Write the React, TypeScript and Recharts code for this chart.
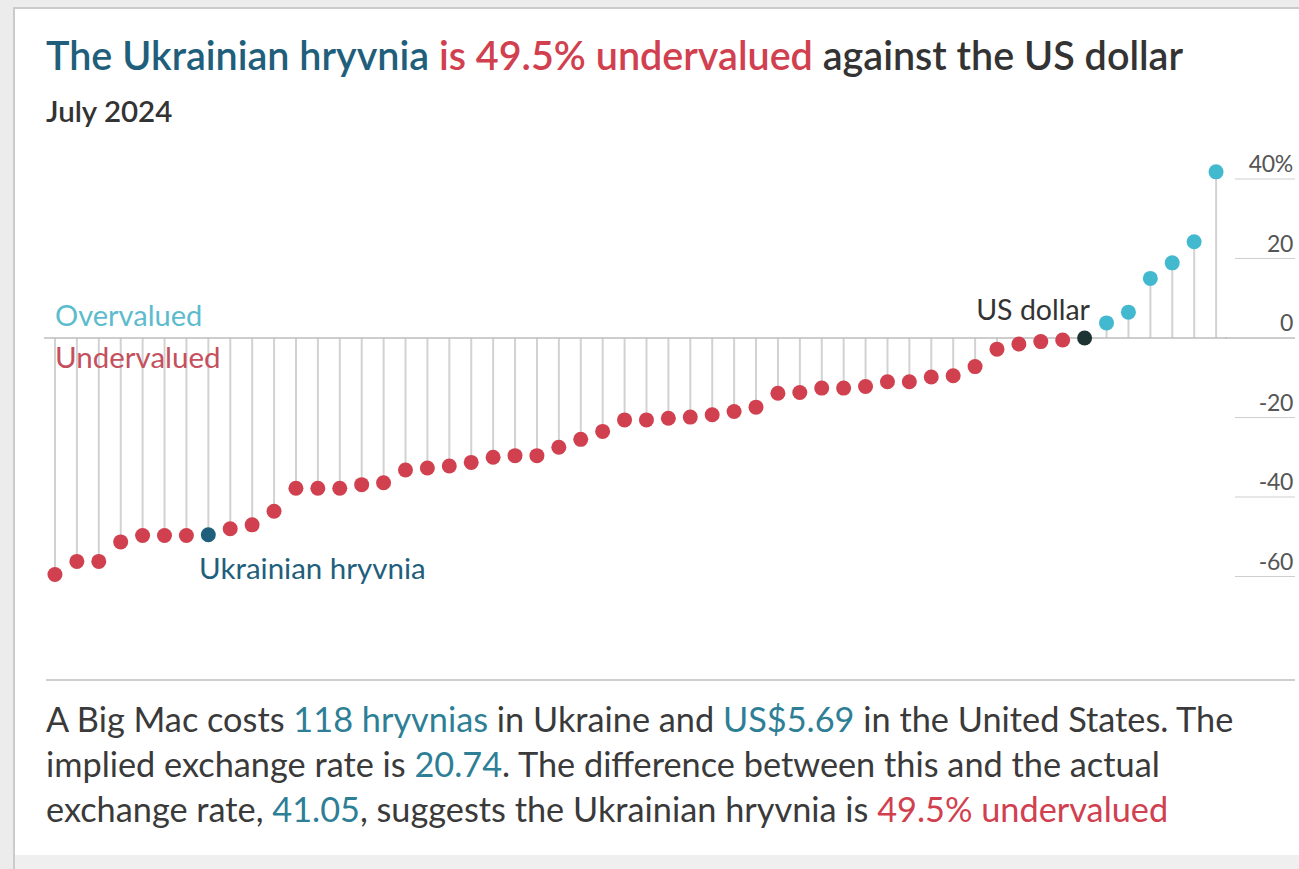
import React from "react";
import {
  ComposedChart,
  Bar,
  Line,
  XAxis,
  YAxis,
  ReferenceLine,
} from "recharts";

// Big Mac index, July 2024 - % over/under valuation vs US dollar, sorted
const VALUES = [
  -59.5, -56.2, -56.2, -51.3, -49.7, -49.7, -49.7, -49.5, -48.0, -47.0,
  -43.6, -37.8, -37.8, -37.8, -36.9, -36.4, -33.2, -32.7, -32.2, -31.3,
  -30.0, -29.6, -29.6, -27.5, -25.5, -23.5, -20.6, -20.6, -20.2, -19.9,
  -19.3, -18.5, -17.4, -13.9, -13.7, -12.6, -12.6, -12.2, -11.0, -11.0,
  -9.8, -9.5, -7.2, -2.8, -1.5, -0.9, -0.5, 0, 3.8, 6.5,
  15.0, 18.9, 24.2, 41.8,
];
const HRYVNIA_INDEX = 7;
const DOLLAR_INDEX = 47;
const Y_TICKS = [-60, -40, -20, 0, 20, 40];

const data = VALUES.map((value, i) => ({ id: i, value }));

const RED = "#d1404f";
const BLUE = "#43b9cf";
const TEAL = "#1f5f7c";
const HILITE = "#2e7f96";
const FONT = "Lato, 'Open Sans', sans-serif";

const dotColor = (index: number, value: number) => {
  if (index === HRYVNIA_INDEX) return TEAL;
  if (index === DOLLAR_INDEX) return "#1e3333";
  return value > 0 ? BLUE : RED;
};

const renderDot = (props: any) => {
  const { cx, cy, index, value } = props;
  return (
    <circle
      key={`dot-${index}`}
      cx={cx}
      cy={cy}
      r={7.5}
      fill={dotColor(index, value)}
    />
  );
};

const RightTick = (props: any) => {
  const { x, y, payload } = props;
  const v = payload.value;
  const label = v === 40 ? "40%" : String(v);
  return (
    <g>
      <line
        x1={v === 0 ? x - 10 : x}
        x2={x + 60}
        y1={y}
        y2={y}
        stroke={v === 0 ? "#bdbdbd" : "#cfcfcf"}
        strokeWidth={v === 0 ? 1.6 : 1.2}
      />
      <text
        x={x + 58}
        y={y - 7}
        textAnchor="end"
        fontFamily={FONT}
        fontSize={23}
        letterSpacing={-0.3}
        fill="#555"
      >
        {label}
      </text>
    </g>
  );
};

export default function App() {
  return (
    <div
      style={{
        position: "fixed",
        left: 0,
        top: 0,
        width: 1299,
        height: 869,
        background: "#ececec",
        overflow: "hidden",
      }}
    >
      <div
        style={{
          position: "absolute",
          left: 13,
          top: 7,
          width: 1286,
          height: 862,
          borderLeft: "2px solid #cbcbcb",
          borderTop: "2px solid #cbcbcb",
          background: "#fff",
        }}
      />
      <div
        style={{
          position: "absolute",
          left: 15,
          top: 855,
          width: 1284,
          height: 14,
          background: "#efefef",
        }}
      />

      <div style={{ position: "absolute", left: 0, top: 0 }}>
        <ComposedChart
          width={1299}
          height={660}
          data={data}
          margin={{ top: 139.25, right: 0, bottom: 43.75, left: 44 }}
        >
          <XAxis dataKey="id" type="category" hide />
          <YAxis
            orientation="right"
            width={72}
            domain={[-70, 50]}
            ticks={Y_TICKS}
            axisLine={false}
            tickLine={false}
            tick={<RightTick />}
          />
          <Bar
            dataKey="value"
            barSize={2}
            fill="#d2d2d2"
            isAnimationActive={false}
          />
          <ReferenceLine y={0} stroke="#bdbdbd" strokeWidth={1.6} />
          <Line
            dataKey="value"
            stroke="none"
            dot={renderDot}
            activeDot={false}
            isAnimationActive={false}
          />
        </ComposedChart>
      </div>

      <svg
        width={1299}
        height={869}
        style={{ position: "absolute", left: 0, top: 0, pointerEvents: "none" }}
        fontFamily={FONT}
      >
        <text x={46} y={70} fontSize={39.5} fontWeight={600}>
          <tspan fill={TEAL}>The Ukrainian hryvnia</tspan>
          <tspan fill={RED}> is 49.5% undervalued</tspan>
          <tspan fill="#333"> against the US dollar</tspan>
        </text>
        <text x={46} y={122} fontSize={29.5} fontWeight={600} fill="#333">
          July 2024
        </text>

        <text x={55} y={326} fontSize={29} fill="#5cbccd">
          Overvalued
        </text>
        <text x={55} y={368} fontSize={29.5} fill="#c4505e">
          Undervalued
        </text>
        <text x={199} y={579} fontSize={29.5} fill={TEAL}>
          Ukrainian hryvnia
        </text>
        <text x={1090} y={320} fontSize={28.5} fill="#333" textAnchor="end">
          US dollar
        </text>

        <line x1={46} x2={1295} y1={680} y2={680} stroke="#cfcfcf" strokeWidth={2} />
        <g fontSize={34.3} fill="#3a3a3a">
          <text x={46} y={732}>
            A Big Mac costs <tspan fill={HILITE}>118 hryvnias</tspan> in Ukraine and{" "}
            <tspan fill={HILITE}>US$5.69</tspan> in the United States. The
          </text>
          <text x={46} y={777}>
            implied exchange rate is <tspan fill={HILITE}>20.74</tspan>. The difference
            between this and the actual
          </text>
          <text x={46} y={822}>
            exchange rate, <tspan fill={HILITE}>41.05</tspan>, suggests the Ukrainian
            hryvnia is <tspan fill={RED}>49.5% undervalued</tspan>
          </text>
        </g>
      </svg>
    </div>
  );
}
